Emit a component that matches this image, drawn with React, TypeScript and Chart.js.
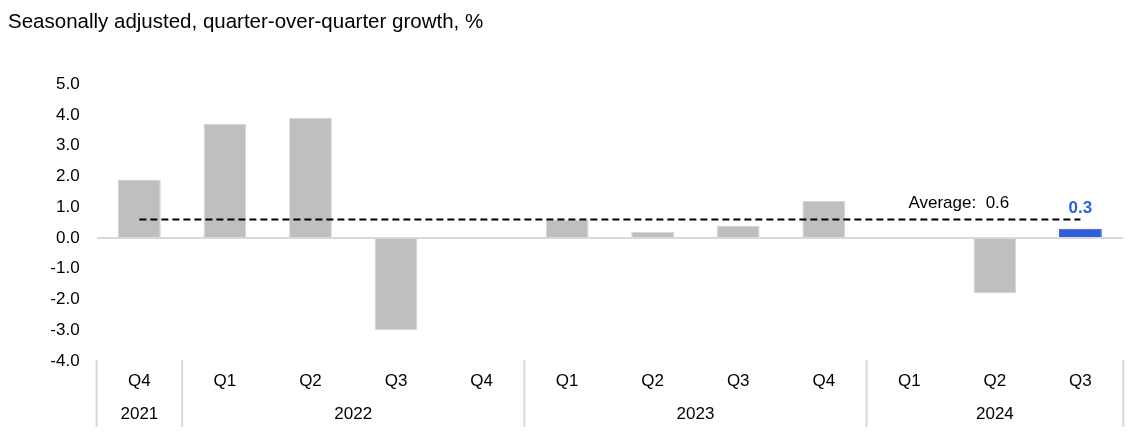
import React, { useEffect, useRef } from "react";
import { Chart, registerables } from "chart.js";

Chart.register(...registerables);

const quarterLabels = ["Q4", "Q1", "Q2", "Q3", "Q4", "Q1", "Q2", "Q3", "Q4", "Q1", "Q2", "Q3"];
const yearLabels = ["2021", "2022", "2023", "2024"];
const yearSpans = [1, 4, 4, 3];
const growthValues = [1.9, 3.7, 3.9, -3.0, 0.0, 0.6, 0.2, 0.4, 1.2, 0.0, -1.8, 0.3];
const averageValue = 0.6;
const averageLine = quarterLabels.map(() => averageValue);
const yMin = -4;
const yMax = 5;
const titleText = "Seasonally adjusted, quarter-over-quarter growth, %";
const averageText = "Average:  0.6";

const FONT = "'Liberation Sans', Arial, sans-serif";
const GREY = "#BFBFBF";
const BLUE = "#2F5FD8";

const overlayPlugin = {
  id: "overlay",
  afterDraw(chart: any) {
    const ctx = chart.ctx;
    const x = chart.scales.x;
    const y = chart.scales.y;
    const area = chart.chartArea;
    const half = (x.getPixelForTick(1) - x.getPixelForTick(0)) / 2;

    ctx.save();
    ctx.strokeStyle = "#D9D9D9";
    ctx.lineWidth = 2;
    let idx = 0;
    const boundaries: number[] = [x.getPixelForTick(0) - half];
    yearSpans.forEach((span, g) => {
      const first = idx;
      const last = idx + span - 1;
      const left = x.getPixelForTick(first) - half;
      const right = x.getPixelForTick(last) + half;
      boundaries.push(right);
      ctx.fillStyle = "#000";
      ctx.font = `17px ${FONT}`;
      ctx.textAlign = "center";
      ctx.textBaseline = "middle";
      ctx.fillText(yearLabels[g], (left + right) / 2, area.bottom + 53);
      idx += span;
    });
    boundaries.forEach((bx) => {
      ctx.beginPath();
      ctx.moveTo(bx, area.bottom - 1);
      ctx.lineTo(bx, area.bottom + 66);
      ctx.stroke();
    });

    const lastIdx = growthValues.length - 1;
    ctx.fillStyle = "#000";
    ctx.font = `17px ${FONT}`;
    ctx.textAlign = "center";
    ctx.textBaseline = "middle";
    ctx.fillText(averageText, x.getPixelForTick(lastIdx - 1) - 36, y.getPixelForValue(averageValue) - 16);

    ctx.fillStyle = BLUE;
    ctx.font = `bold 17px ${FONT}`;
    ctx.fillText(growthValues[lastIdx].toFixed(1), x.getPixelForTick(lastIdx), y.getPixelForValue(growthValues[lastIdx]) - 20);
    ctx.restore();
  },
};

export default function App() {
  const ref = useRef<HTMLCanvasElement | null>(null);

  useEffect(() => {
    if (!ref.current) return;
    const lastIdx = growthValues.length - 1;
    const chart = new Chart(ref.current, {
      type: "bar",
      data: {
        labels: quarterLabels,
        datasets: [
          {
            type: "line",
            data: averageLine,
            borderColor: "#000",
            borderWidth: 2,
            borderDash: [7, 4],
            pointRadius: 0,
            fill: false,
            order: 0,
          } as any,
          {
            type: "bar",
            data: growthValues,
            backgroundColor: growthValues.map((_, i) => (i === lastIdx ? BLUE : GREY)),
            borderColor: growthValues.map((_, i) => (i === lastIdx ? BLUE : "#D6D6D6")),
            borderWidth: growthValues.map((v) => (v === 0 ? 0 : 1)),
            barPercentage: 0.5,
            categoryPercentage: 1,
            order: 1,
          } as any,
        ],
      },
      options: {
        responsive: true,
        maintainAspectRatio: false,
        animation: false,
        layout: { padding: { left: 0, right: 8.8, top: 0, bottom: 0 } },
        plugins: {
          legend: { display: false },
          tooltip: { enabled: false },
          title: {
            display: true,
            text: titleText,
            align: "start",
            color: "#000",
            font: { family: FONT, size: 20.5, weight: "normal" },
            padding: { top: 2, bottom: 49.5 },
          },
        },
        scales: {
          x: {
            offset: true,
            grid: { display: false, drawTicks: false },
            border: { display: false },
            ticks: {
              color: "#000",
              font: { family: FONT, size: 17 },
              padding: 10,
              maxRotation: 0,
              autoSkip: false,
            },
            afterFit(scale: any) {
              scale.height = 74;
            },
          },
          y: {
            min: yMin,
            max: yMax,
            grid: {
              drawTicks: false,
              color: (c: any) => (c.tick && c.tick.value === 0 ? "#D9D9D9" : "rgba(0,0,0,0)"),
              lineWidth: 2,
            },
            border: { display: false },
            ticks: {
              stepSize: 1,
              color: "#000",
              font: { family: FONT, size: 17 },
              padding: 17,
              callback: (v: any) => Number(v).toFixed(1),
            },
            afterFit(scale: any) {
              scale.width = 88.6;
            },
          },
        },
      },
      plugins: [overlayPlugin],
    });
    return () => chart.destroy();
  }, []);

  return (
    <div style={{ width: 1124, height: 427, position: "relative" }}>
      <canvas ref={ref} />
    </div>
  );
}
